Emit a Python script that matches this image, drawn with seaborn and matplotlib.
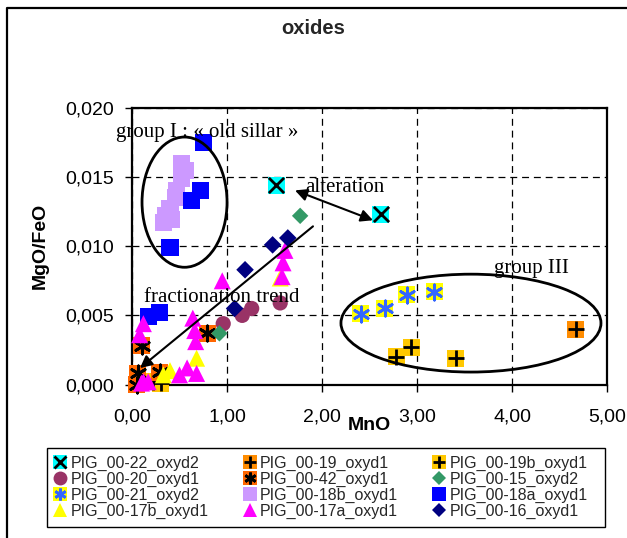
import matplotlib
matplotlib.use("Agg")
import matplotlib.pyplot as plt
import seaborn as sns
from matplotlib.lines import Line2D
from matplotlib.patches import Ellipse, Rectangle
from matplotlib.ticker import FuncFormatter, MultipleLocator

# MnO (x) vs MgO/FeO (y), one pair of lists per sample
pig22_x = [1.52, 2.62]
pig22_y = [0.0144, 0.0123]
pig19_x = [4.67]
pig19_y = [0.0040]
pig19b_x = [2.78, 2.94, 3.41, 0.22, 0.30]
pig19b_y = [0.0020, 0.0027, 0.0019, 0.0002, 0.0001]
pig20_x = [0.96, 1.16, 1.26, 1.56]
pig20_y = [0.0044, 0.0050, 0.0055, 0.0059]
pig42_x = [0.05, 0.06, 0.10, 0.29, 0.79]
pig42_y = [0.0000, 0.0008, 0.0028, 0.0009, 0.0037]
pig15_x = [0.92, 1.77]
pig15_y = [0.0037, 0.0122]
pig21_x = [2.41, 2.66, 2.89, 3.18]
pig21_y = [0.0051, 0.0055, 0.0065, 0.0067]
pig18b_x = [0.52, 0.56, 0.52, 0.47, 0.46, 0.40, 0.35, 0.33, 0.42]
pig18b_y = [0.0160, 0.0155, 0.0149, 0.0140, 0.0135, 0.0127, 0.0122, 0.0117, 0.0119]
pig18a_x = [0.75, 0.72, 0.63, 0.40, 0.17, 0.29]
pig18a_y = [0.0175, 0.0140, 0.0133, 0.0099, 0.0049, 0.0052]
pig17b_x = [0.33, 0.40, 0.68, 1.56]
pig17b_y = [0.0007, 0.0010, 0.0019, 0.0077]
pig17a_x = [1.61, 1.59, 1.58, 0.95, 0.64, 0.66, 0.67, 0.12, 0.08,
            0.12, 0.17, 0.50, 0.58, 0.68, 0.10]
pig17a_y = [0.0097, 0.0088, 0.0078, 0.0075, 0.0048, 0.0039, 0.0031, 0.0044, 0.0036,
            0.0002, 0.0002, 0.0007, 0.0012, 0.0008, 0.0001]
pig16_x = [1.08, 1.19, 1.48, 1.64]
pig16_y = [0.0055, 0.0083, 0.0101, 0.0106]

labels = ["PIG_00-22_oxyd2", "PIG_00-19_oxyd1", "PIG_00-19b_oxyd1",
          "PIG_00-20_oxyd1", "PIG_00-42_oxyd1", "PIG_00-15_oxyd2",
          "PIG_00-21_oxyd2", "PIG_00-18b_oxyd1", "PIG_00-18a_oxyd1",
          "PIG_00-17b_oxyd1", "PIG_00-17a_oxyd1", "PIG_00-16_oxyd1"]

ASTER = (6, 2, 0)
# label: (x, y, marker, colour, size, overlay marker, overlay colour)
styles = {
    "PIG_00-22_oxyd2": (pig22_x, pig22_y, "s", "#00FFFF", 150, "x", "black"),
    "PIG_00-19_oxyd1": (pig19_x, pig19_y, "s", "#FF8C00", 150, "+", "black"),
    "PIG_00-19b_oxyd1": (pig19b_x, pig19b_y, "s", "#FFC800", 150, "+", "black"),
    "PIG_00-20_oxyd1": (pig20_x, pig20_y, "o", "#993366", 120, None, None),
    "PIG_00-42_oxyd1": (pig42_x, pig42_y, "s", "#FF6600", 150, ASTER, "black"),
    "PIG_00-15_oxyd2": (pig15_x, pig15_y, "D", "#339966", 70, None, None),
    "PIG_00-21_oxyd2": (pig21_x, pig21_y, "s", "#FFFF00", 150, ASTER, "#3366FF"),
    "PIG_00-18b_oxyd1": (pig18b_x, pig18b_y, "s", "#CC99FF", 150, None, None),
    "PIG_00-18a_oxyd1": (pig18a_x, pig18a_y, "s", "#0000FF", 150, None, None),
    "PIG_00-17b_oxyd1": (pig17b_x, pig17b_y, "^", "#FFFF00", 150, None, None),
    "PIG_00-17a_oxyd1": (pig17a_x, pig17a_y, "^", "#FF00FF", 150, None, None),
    "PIG_00-16_oxyd1": (pig16_x, pig16_y, "D", "#000080", 80, None, None),
}

sns.set_theme(style="ticks")
plt.rcParams["font.family"] = ["Liberation Sans", "DejaVu Sans"]
plt.rcParams["lines.scale_dashes"] = False

fig = plt.figure(figsize=(6.27, 5.38), dpi=100)
ax = fig.add_axes([132 / 627, 1 - 384.5 / 538, 475 / 627, 276.5 / 538])

handles = {}
for i, lab in enumerate(labels):
    xs, ys, mk, col, sz, omk, ocol = styles[lab]
    sns.scatterplot(x=xs, y=ys, marker=mk, color=col, s=sz, edgecolor="none",
                    linewidth=0, ax=ax, zorder=3 + i * 0.1, clip_on=False, legend=False)
    base = Line2D([], [], marker=mk, color=col, linestyle="none",
                  markersize=10 if mk != "D" else 7.5, markeredgewidth=0)
    if omk is not None:
        sns.scatterplot(x=xs, y=ys, marker=omk, color=ocol, s=120, edgecolor=None,
                        linewidth=2, ax=ax, zorder=3.05 + i * 0.1, clip_on=False,
                        legend=False)
        over = Line2D([], [], marker=omk, color=ocol, linestyle="none",
                      markersize=8.5, markeredgewidth=2)
        handles[lab] = (base, over)
    else:
        handles[lab] = base

ax.set_xlim(0, 5)
ax.set_ylim(0, 0.02)
ax.xaxis.set_major_locator(MultipleLocator(1))
ax.yaxis.set_major_locator(MultipleLocator(0.005))
ax.xaxis.set_major_formatter(FuncFormatter(lambda v, p: f"{v:.2f}".replace(".", ",")))
ax.yaxis.set_major_formatter(FuncFormatter(lambda v, p: f"{v:.3f}".replace(".", ",")))
ax.tick_params(axis="both", direction="out", length=5, width=1, color="black",
               labelsize=14, labelcolor="black")
ax.tick_params(axis="x", pad=12)
ax.tick_params(axis="y", pad=8)
ax.grid(True, color="black", linewidth=0.9, linestyle=(0, (5, 3.5)))
ax.set_axisbelow(True)
for sp in ax.spines.values():
    sp.set_color("black")
    sp.set_linewidth(1.6)
    sp.set_visible(True)

ax.set_xlabel("MnO", fontsize=14, fontweight="bold", color="black")
ax.xaxis.label.set_va("center")
ax.xaxis.set_label_coords(0.5, -(426 - 384.5) / 276.5)
ax.set_ylabel("MgO/FeO", fontsize=14, fontweight="bold", color="black")
ax.yaxis.label.set_va("center")
ax.yaxis.set_label_coords(-(132 - 40) / 475, 0.5)

fig.text(313 / 627, 1 - 29 / 538, "oxides", ha="center", va="center",
         fontsize=14.5, fontweight="bold")

# annotations
serif = dict(family="Liberation Serif", fontsize=15, color="black", zorder=6)
ax.add_patch(Ellipse((0.553, 0.01319), 0.895, 0.00942, fill=False,
                     edgecolor="black", linewidth=2, zorder=5, clip_on=False))
ax.add_patch(Ellipse((3.568, 0.00444), 2.737, 0.00708, fill=False,
                     edgecolor="black", linewidth=2, zorder=5))
ax.text(0.789, 0.01823, "group I : \u00ab old sillar \u00bb", ha="center", va="center", **serif)
ax.text(2.24, 0.01426, "alteration", ha="center", va="center", **serif)
ax.text(0.947, 0.00632, "fractionation trend", ha="center", va="center", **serif)
ax.text(4.2, 0.00841, "group III", ha="center", va="center", **serif)
ax.annotate("", xy=(2.537, 0.01188), xytext=(1.716, 0.01404),
            arrowprops=dict(arrowstyle="<|-|>", color="black", lw=1.5,
                            mutation_scale=18, shrinkA=0, shrinkB=0), zorder=6)
ax.annotate("", xy=(0.084, 0.00119), xytext=(1.905, 0.01144),
            arrowprops=dict(arrowstyle="-|>", color="black", lw=1.5,
                            mutation_scale=18, shrinkA=0, shrinkB=0), zorder=6)

# legend: 3 columns filled row by row, frame drawn separately
order = [labels[r * 3 + c] for c in range(3) for r in range(4)]
leg = fig.legend([handles[l] for l in order], order, ncol=3, loc="center",
                 bbox_to_anchor=(49 / 627, 1 - 527 / 538, 542 / 627, 79 / 538),
                 mode="expand", fontsize=11.5, frameon=False, borderpad=0.2,
                 labelspacing=0.05, handlelength=1.0, handletextpad=0.15,
                 borderaxespad=0)
fig.add_artist(Rectangle((47 / 627, 1 - 527 / 538), 558 / 627, 79 / 538,
                         transform=fig.transFigure, fill=False,
                         edgecolor="black", linewidth=1))

# chart area border
fig.add_artist(Line2D([7 / 627, 7 / 627, 1], [0, 1 - 8 / 538, 1 - 8 / 538],
                      transform=fig.transFigure, color="black", linewidth=1.6))

fig.savefig("out.png", dpi=100)
plt.close(fig)
